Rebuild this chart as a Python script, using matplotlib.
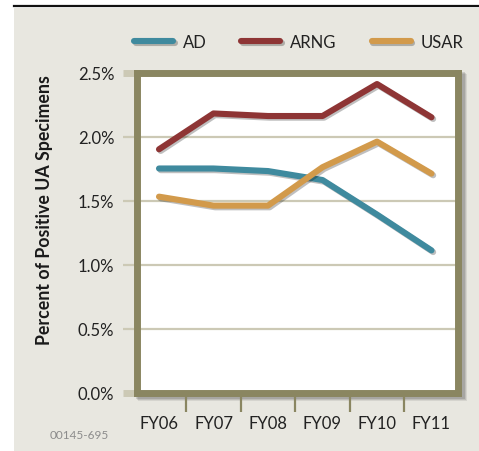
import matplotlib
matplotlib.use("Agg")
import matplotlib.pyplot as plt
import matplotlib.patheffects as pe
from matplotlib.patches import Rectangle
from matplotlib.lines import Line2D
from matplotlib.ticker import FixedLocator, FuncFormatter

plt.rcParams['font.family'] = ['Lato', 'DejaVu Sans']

# Fiscal years and positive urinalysis rates (%) by component
years = ["FY06", "FY07", "FY08", "FY09", "FY10", "FY11"]
ad = [1.75, 1.75, 1.73, 1.66, 1.39, 1.11]
arng = [1.90, 2.18, 2.16, 2.16, 2.41, 2.15]
usar = [1.53, 1.46, 1.46, 1.76, 1.96, 1.71]
series_names = ["AD", "ARNG", "USAR"]
y_ticks = [0.0, 0.5, 1.0, 1.5, 2.0, 2.5]
code_label = "00145-695"

colors = {"AD": "#3f8a9e", "ARNG": "#8e3535", "USAR": "#d29a4b"}
frame_col = "#8a8661"
grid_col = "#ccc9b5"
bg_col = "#e8e7e0"

W, H = 479, 452
fig = plt.figure(figsize=(W / 100, H / 100), dpi=100)
fig.patch.set_facecolor("white")

def fx(px):
    return px / W

def fy(py):
    return 1 - py / H

# page panel and rule above it
fig.patches.append(Rectangle((fx(14), 0), 1 - fx(14), fy(9), transform=fig.transFigure,
                             facecolor=bg_col, edgecolor="none", zorder=-5))
fig.lines.append(Line2D([fx(14), 1], [fy(7), fy(7)], transform=fig.transFigure,
                        color="#111111", linewidth=1.6, zorder=-4))

# soft shadow behind the plot frame
for off, a in [(5, 0.08), (4, 0.10), (3, 0.12)]:
    fig.patches.append(Rectangle((fx(133 + off), fy(397 + off)), fx(329), (329 - 2) / H,
                                 transform=fig.transFigure, facecolor="#000000",
                                 alpha=a, edgecolor="none", zorder=-3))

left, right, top, bottom = 136.5, 458.5, 73.5, 393.5
ax = fig.add_axes([fx(left), fy(bottom), fx(right - left), (bottom - top) / H])
ax.set_facecolor("white")

x = list(range(len(years)))
shadow = [pe.SimpleLineShadow(offset=(1.2, -1.2), shadow_color="#000000", alpha=0.25), pe.Normal()]
for name, vals in zip(series_names, [ad, arng, usar]):
    ax.plot(x, vals, color=colors[name], linewidth=4.4, solid_capstyle="round",
            solid_joinstyle="round", path_effects=shadow, label=name, zorder=3)

ax.set_ylim(0, 2.5)
ax.set_xlim((left - 159) / 54.5, (right - 159) / 54.5)

# horizontal grid
for v in y_ticks[1:-1]:
    ax.axhline(v, color=grid_col, linewidth=1.6, zorder=1)

for s in ax.spines.values():
    s.set_color(frame_col)
    s.set_linewidth(5.0)
    s.set_zorder(4)

ax.yaxis.set_major_locator(FixedLocator(y_ticks))
ax.yaxis.set_major_formatter(FuncFormatter(lambda v, p: f"{v:.1f}%"))
ax.tick_params(axis="y", which="major", direction="out", length=10, width=1.6,
               color=grid_col, pad=6, labelsize=12, labelcolor="#222222")
yt = ax.yaxis.get_major_ticks()
for t in (yt[0], yt[-1]):
    t.tick1line.set_color(frame_col)
    t.tick1line.set_markeredgewidth(5.0)

ax.set_xticks(x)
ax.set_xticklabels(years)
ax.set_xticks([i + 0.5 for i in x[:-1]], minor=True)
ax.tick_params(axis="x", which="major", length=0, pad=16, labelsize=12, labelcolor="#222222")
ax.tick_params(axis="x", which="minor", direction="out", length=14, width=1.6, color=frame_col)

fig.text(fx(45), fy(210), "Percent of Positive UA Specimens", rotation=90,
         ha="center", va="center", fontsize=12.8, fontweight="bold", color="#1a1a1a")
fig.text(fx(79), fy(436), code_label, ha="center", va="center", fontsize=8.5, color="#8c8c8c")

handles, labels = ax.get_legend_handles_labels()
leg = fig.legend(handles, labels, loc="center", bbox_to_anchor=(fx(298.5), fy(43.3)),
                 ncol=3, frameon=False, fontsize=12, handlelength=2.34, handletextpad=0.58,
                 columnspacing=2.1, borderpad=0)
for t in leg.get_texts():
    t.set_color("#222222")

fig.savefig("out.png", dpi=100)
